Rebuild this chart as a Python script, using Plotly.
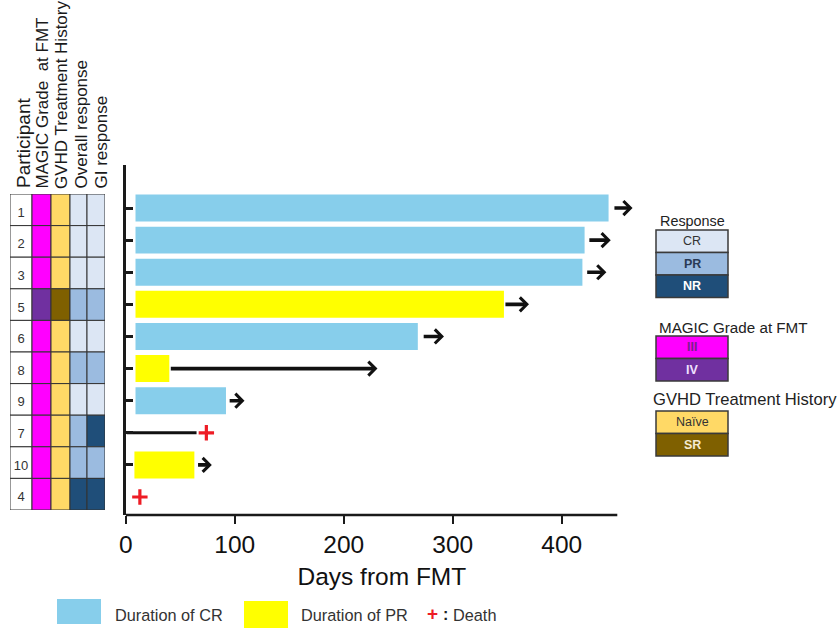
import plotly.graph_objects as go

# ---------------- data ----------------
participants = ["1", "2", "3", "5", "6", "8", "9", "7", "10", "4"]
magic_grade = ["III", "III", "III", "IV", "III", "III", "III", "III", "III", "III"]
gvhd_history = ["Naïve", "Naïve", "Naïve", "SR", "Naïve", "Naïve", "Naïve", "Naïve", "Naïve", "Naïve"]
overall_response = ["CR", "CR", "CR", "PR", "CR", "PR", "CR", "PR", "PR", "NR"]
gi_response = ["CR", "CR", "CR", "PR", "CR", "PR", "CR", "NR", "PR", "NR"]

response_type = ["CR", "CR", "CR", "PR", "CR", "PR", "CR", None, "PR", None]
bar_start = [9, 9, 9, 9, 9, 9, 9, None, 8, None]
bar_end = [443, 421, 419, 347, 268, 40, 92, None, 63, None]
arrow_from = [447, 424, 422, 347, 272, 40, 94, None, 65, None]
arrow_to = [465, 445, 441, 370, 292, 231, 109, None, 79, None]
line_from = [None, None, None, None, None, None, None, 1, None, None]
line_to = [None, None, None, None, None, None, None, 65, None, None]
death_day = [None, None, None, None, None, None, None, 74, None, 13]

x_ticks = [0, 100, 200, 300, 400]

response_labels = ["CR", "PR", "NR"]
grade_labels = ["III", "IV"]
history_labels = ["Naïve", "SR"]

# ---------------- styles ----------------
W, H = 839, 632
FONT = "Liberation Sans, Arial, sans-serif"
grade_colors = {"III": "#ff00ff", "IV": "#7030a0"}
history_colors = {"Naïve": "#ffd966", "SR": "#7f6000"}
resp_colors = {"CR": "#dce6f4", "PR": "#9bbbe0", "NR": "#1f4e79"}
bar_colors = {"CR": "#87ceeb", "PR": "#ffff00"}
label_colors = {"CR": "#333333", "PR": "#2a3a55", "NR": "#ffffff",
                "III": "#7a1f8a", "IV": "#f0e0ff", "Naïve": "#333333", "SR": "#f5ead0"}


def px(x):
    return x / W


def py(y):
    return 1 - y / H


rows = list(range(len(participants)))
fig = go.Figure()

# ---- main bars ----
for rtype in ["CR", "PR"]:
    ys, xs, bs = [], [], []
    for i in rows:
        if response_type[i] == rtype:
            ys.append(i)
            xs.append(bar_end[i] - bar_start[i])
            bs.append(bar_start[i])
    fig.add_trace(go.Bar(orientation="h", y=ys, x=xs, base=bs, width=0.84,
                         marker=dict(color=bar_colors[rtype], line=dict(width=0)),
                         showlegend=False, xaxis="x", yaxis="y"))

# ---- plain follow-up line (no arrow) ----
for i in rows:
    if line_from[i] is not None:
        fig.add_trace(go.Scatter(x=[line_from[i], line_to[i]], y=[i, i], mode="lines",
                                 line=dict(color="#111111", width=3),
                                 showlegend=False, xaxis="x", yaxis="y"))

# ---- deaths ----
dx = [death_day[i] for i in rows if death_day[i] is not None]
dy = [i for i in rows if death_day[i] is not None]
fig.add_trace(go.Scatter(x=dx, y=dy, mode="markers",
                         marker=dict(symbol="cross-thin", size=11,
                                     line=dict(color="#ee1c25", width=3.2)),
                         showlegend=False, xaxis="x", yaxis="y"))

# ---- arrows ----
annotations = []
for i in rows:
    if arrow_to[i] is not None:
        annotations.append(dict(x=arrow_to[i], y=i, ax=arrow_from[i], ay=i,
                                xref="x", yref="y", axref="x", ayref="y",
                                text="", showarrow=True, arrowhead=4, arrowsize=0.75,
                                arrowwidth=3.6, arrowcolor="#111111"))

# ---- table on the left ----
col_starts = [0, 22, 41, 60, 77]
col_widths = [22, 19, 19, 17, 18]
col_colors = [
    ["#ffffff"] * len(participants),
    [grade_colors[g] for g in magic_grade],
    [history_colors[h] for h in gvhd_history],
    [resp_colors[r] for r in overall_response],
    [resp_colors[r] for r in gi_response],
]
for c in range(5):
    fig.add_trace(go.Bar(orientation="h", y=rows, x=[col_widths[c]] * len(rows),
                         base=[col_starts[c]] * len(rows), width=1,
                         marker=dict(color=col_colors[c], line=dict(color="#333333", width=1)),
                         showlegend=False, xaxis="x2", yaxis="y2"))
fig.add_trace(go.Scatter(x=[11] * len(rows), y=[i + 0.12 for i in rows], mode="text",
                         text=participants, textfont=dict(family=FONT, size=13, color="#333333"),
                         showlegend=False, xaxis="x2", yaxis="y2"))

# ---- column headers (rotated) ----
headers = [("Participant", 23, 190, 19), ("MAGIC Grade  at FMT", 42, 191, 17),
           ("GVHD Treatment History", 61, 191, 17), ("Overall response", 81, 191, 17),
           ("GI response", 101, 191, 17)]
for txt, x, y, s in headers:
    annotations.append(dict(text=txt, x=px(x), y=py(y), xref="paper", yref="paper",
                            xanchor="center", yanchor="bottom", textangle=-90, showarrow=False,
                            font=dict(family=FONT, size=s, color="#1a1a1a")))

# ---- right legend ----
shapes = []


def legend_block(title, tx, ty, anchor, tsize, labels, colors, y0):
    annotations.append(dict(text=title, x=px(tx), y=py(ty), xref="paper", yref="paper",
                            xanchor=anchor, yanchor="middle", showarrow=False,
                            font=dict(family=FONT, size=tsize, color="#222222")))
    hgt = 22.5
    for k, lab in enumerate(labels):
        top = y0 + k * hgt
        shapes.append(dict(type="rect", xref="paper", yref="paper",
                           x0=px(656), x1=px(728), y0=py(top), y1=py(top + hgt),
                           fillcolor=colors[lab], line=dict(color="#3a3a3a", width=1.5)))
        annotations.append(dict(text="<b>%s</b>" % lab if lab in ("III", "IV", "SR", "NR", "PR") else lab,
                                x=px(692), y=py(top + hgt / 2), xref="paper", yref="paper",
                                xanchor="center", yanchor="middle", showarrow=False,
                                font=dict(family=FONT, size=12.5, color=label_colors[lab])))


legend_block("Response", 692, 221, "center", 14.4, response_labels, resp_colors, 230)
legend_block("MAGIC Grade at FMT", 657, 327, "left", 15.2, grade_labels, grade_colors, 336)
legend_block("GVHD Treatment History", 651, 399, "left", 16.6, history_labels, history_colors, 411)

# ---- bottom legend ----
shapes.append(dict(type="rect", xref="paper", yref="paper", x0=px(57), x1=px(101),
                   y0=py(599), y1=py(624), fillcolor=bar_colors["CR"], line=dict(width=0)))
shapes.append(dict(type="rect", xref="paper", yref="paper", x0=px(244), x1=px(288),
                   y0=py(601), y1=py(628), fillcolor=bar_colors["PR"], line=dict(width=0)))
for txt, x in [("Duration of CR", 113), ("Duration of PR", 299), ("Death", 451)]:
    annotations.append(dict(text=txt, x=px(x), y=py(615), xref="paper", yref="paper",
                            xanchor="left", yanchor="middle", showarrow=False,
                            font=dict(family=FONT, size=16.3, color="#333333")))
annotations.append(dict(text="<b>+</b>", x=px(432), y=py(613), xref="paper", yref="paper",
                        xanchor="center", yanchor="middle", showarrow=False,
                        font=dict(family=FONT, size=19, color="#ee1c25")))
annotations.append(dict(text="<b>:</b>", x=px(445), y=py(614), xref="paper", yref="paper",
                        xanchor="center", yanchor="middle", showarrow=False,
                        font=dict(family=FONT, size=16, color="#222222")))

# ---- x axis line ----
shapes.append(dict(type="line", xref="x", yref="y domain", x0=0, x1=451, y0=0, y1=0,
                   line=dict(color="#1a1a1a", width=2.5)))

scale = (561.7 - 125.7) / 400.0
x_max = 470
fig.update_layout(
    template="none",
    width=W, height=H, autosize=False,
    margin=dict(l=0, r=0, t=0, b=0, pad=0),
    paper_bgcolor="white", plot_bgcolor="white",
    barmode="overlay", showlegend=False,
    font=dict(family=FONT),
    xaxis=dict(domain=[px(125.7), px(125.7 + x_max * scale)], range=[0, x_max],
               tickvals=x_ticks, ticks="outside", ticklen=8, tickwidth=1.5, tickcolor="#1a1a1a",
               showline=False, showgrid=False, zeroline=False, automargin=False,
               tickfont=dict(family=FONT, size=24.5, color="#111111"),
               title=dict(text="Days from FMT", font=dict(family=FONT, size=24.5, color="#111111"),
                          standoff=10),
               anchor="y", fixedrange=True),
    yaxis=dict(domain=[py(515), py(165)], range=[9.56, -1.34],
               tickvals=rows[:-1], ticks="inside", ticklen=8, tickwidth=3, tickcolor="#1a1a1a",
               showticklabels=False, showline=True, linewidth=2.5, linecolor="#1a1a1a",
               showgrid=False, zeroline=False, anchor="x", fixedrange=True, automargin=False),
    xaxis2=dict(domain=[px(10), px(105)], range=[0, 95], visible=False, anchor="y2",
                fixedrange=True, automargin=False),
    yaxis2=dict(domain=[py(510), py(194)], range=[9.5, -0.5], visible=False, anchor="x2",
                fixedrange=True, automargin=False),
    annotations=annotations,
    shapes=shapes,
)

fig.write_html("out.html")
